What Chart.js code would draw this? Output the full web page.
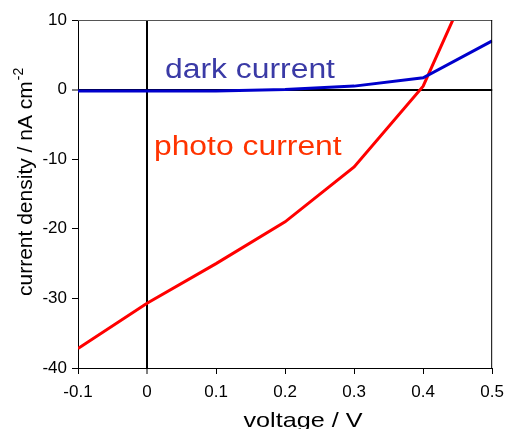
<!DOCTYPE html>
<html>
<head>
<meta charset="utf-8">
<script src="https://cdn.jsdelivr.net/npm/chart.js@4/dist/chart.umd.min.js"></script>
<style>
  body { margin: 0; background: #fff; }
  canvas { display: block; }
</style>
</head>
<body>
<canvas id="myChart" width="512" height="429"></canvas>
<script>
// voltage (V) and current density (nA cm^-2)
const voltage = [-0.1, 0, 0.1, 0.2, 0.3, 0.4, 0.5];
const photoCurrent = [-37.2, -30.7, -25.0, -19.0, -11.1, 0.5, 22.6];
const darkCurrent = [-0.2, -0.2, -0.2, 0, 0.5, 1.7, 7.0];

const xTickLabels = ['-0.1', '0', '0.1', '0.2', '0.3', '0.4', '0.5'];
const yTickLabels = ['-40', '-30', '-20', '-10', '0', '10'];

const FONT = '"Liberation Sans", Arial, sans-serif';

// horizontal text, a bit stretched like the original
function drawWide(ctx, text, x, y, size, color, sx, align) {
    ctx.save();
    ctx.font = size + 'px ' + FONT;
    ctx.fillStyle = color;
    ctx.textBaseline = 'alphabetic';
    const w = ctx.measureText(text).width * sx;
    let left = x;
    if (align === 'center') left = x - w / 2;
    ctx.translate(left, y);
    ctx.scale(sx, 1);
    ctx.textAlign = 'left';
    ctx.fillText(text, 0, 0);
    ctx.restore();
}

const textPlugin = {
    id: 'texts',
    afterDraw(chart) {
        const ctx = chart.ctx;
        const a = chart.chartArea;
        const xs = chart.scales.x, ys = chart.scales.y;

        // frame: top and right
        ctx.save();
        ctx.lineWidth = 1;
        ctx.strokeStyle = '#555';
        ctx.beginPath();
        ctx.moveTo(a.left, a.top + 0.5);
        ctx.lineTo(a.right, a.top + 0.5);
        ctx.stroke();
        ctx.strokeStyle = '#000';
        ctx.beginPath();
        ctx.moveTo(a.right - 0.5, a.top);
        ctx.lineTo(a.right - 0.5, a.bottom);
        ctx.stroke();
        ctx.restore();

        // curve labels
        drawWide(ctx, 'dark current', xs.getPixelForValue(0.026), ys.getPixelForValue(1.7), 27, '#3a3aa6', 1.18);
        drawWide(ctx, 'photo current', xs.getPixelForValue(0.01), ys.getPixelForValue(-9.4), 27, '#ff3300', 1.18);

        // x axis title
        drawWide(ctx, 'voltage / V', 303, 427, 21, '#000', 1.2, 'center');

        // y axis title with superscript
        ctx.save();
        ctx.translate(32, 296);
        ctx.rotate(-Math.PI / 2);
        ctx.fillStyle = '#000';
        ctx.textBaseline = 'alphabetic';
        ctx.textAlign = 'left';
        ctx.font = '21px ' + FONT;
        const main = 'current density / nA cm';
        ctx.fillText(main, 0, 0);
        const w = ctx.measureText(main).width;
        ctx.font = '14px ' + FONT;
        ctx.fillText('-2', w + 1, -9);
        ctx.restore();
    }
};

const isZero = v => Math.abs(v) < 1e-9;

const ctx = document.getElementById('myChart').getContext('2d');
new Chart(ctx, {
    type: 'line',
    data: {
        datasets: [
            {
                label: 'dark current',
                data: voltage.map((v, i) => ({ x: v, y: darkCurrent[i] })),
                borderColor: '#0000cc',
                borderWidth: 3,
                pointRadius: 0,
                tension: 0
            },
            {
                label: 'photo current',
                data: voltage.map((v, i) => ({ x: v, y: photoCurrent[i] })),
                borderColor: '#ff0000',
                borderWidth: 3,
                pointRadius: 0,
                tension: 0
            }
        ]
    },
    options: {
        responsive: false,
        animation: false,
        layout: { padding: { left: 0, right: 18, top: 20, bottom: 0 } },
        plugins: {
            legend: { display: false },
            tooltip: { enabled: false }
        },
        scales: {
            x: {
                type: 'linear',
                min: -0.1,
                max: 0.5,
                afterFit: s => { s.height = 61; },
                ticks: {
                    stepSize: 0.1,
                    color: '#000',
                    padding: 8,
                    font: { family: FONT, size: 17 },
                    maxRotation: 0,
                    callback: (v, i) => xTickLabels[i]
                },
                grid: {
                    color: c => (c.tick && isZero(c.tick.value)) ? '#000' : 'rgba(0,0,0,0)',
                    lineWidth: c => (c.tick && isZero(c.tick.value)) ? 2 : 1,
                    tickColor: '#000',
                    tickLength: 6,
                    tickWidth: 1
                },
                border: { display: true, color: '#000', width: 1 }
            },
            y: {
                min: -40,
                max: 10,
                afterFit: s => { s.width = 78; },
                ticks: {
                    stepSize: 10,
                    color: '#000',
                    padding: 5,
                    font: { family: FONT, size: 17 },
                    callback: (v, i) => yTickLabels[i]
                },
                grid: {
                    color: c => (c.tick && isZero(c.tick.value)) ? '#000' : 'rgba(0,0,0,0)',
                    lineWidth: c => (c.tick && isZero(c.tick.value)) ? 2 : 1,
                    tickColor: '#000',
                    tickLength: 6,
                    tickWidth: 1
                },
                border: { display: true, color: '#000', width: 1 }
            }
        }
    },
    plugins: [textPlugin]
});
</script>
</body>
</html>
